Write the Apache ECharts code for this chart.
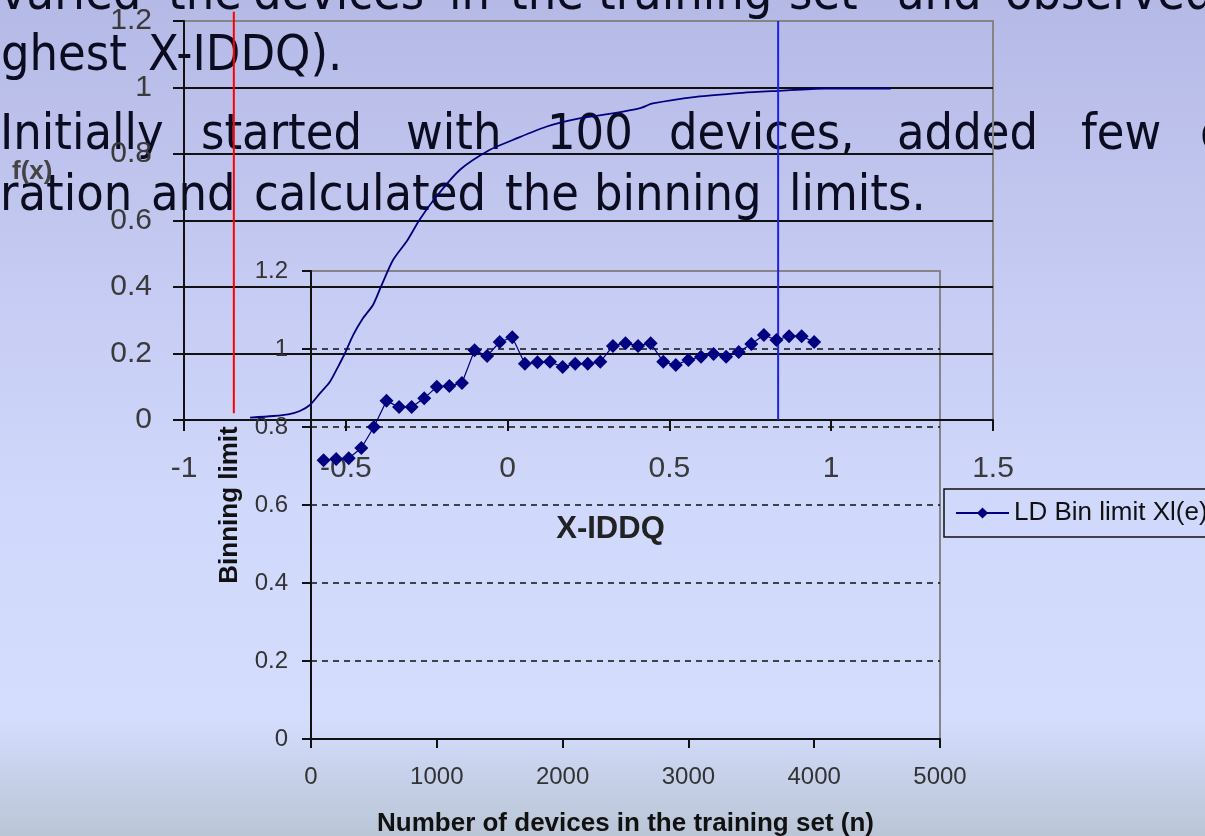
<!DOCTYPE html>
<html>
<head>
<meta charset="utf-8">
<script src="https://cdn.jsdelivr.net/npm/echarts@6/dist/echarts.min.js"></script>
<style>
html,body{margin:0;padding:0;width:1205px;height:836px;overflow:hidden;}
#chart{width:1205px;height:836px;}
</style>
</head>
<body>
<div id="chart"></div>
<script>
// ---- Background chart: cumulative distribution f(x) vs X-IDDQ ----
const cdfX = [-0.796,-0.724,-0.678,-0.642,-0.611,-0.580,-0.549,-0.524,-0.503,-0.477,-0.447,-0.416,-0.390,-0.354,-0.310,-0.272,-0.220,-0.148,-0.056,0.016,0.119,0.222,0.325,0.407,0.449,0.582,0.726,0.837,0.978,1.184];
const cdfY = [0.007,0.012,0.017,0.027,0.045,0.080,0.115,0.160,0.200,0.256,0.306,0.346,0.404,0.481,0.540,0.602,0.672,0.752,0.812,0.842,0.882,0.907,0.922,0.937,0.952,0.972,0.984,0.990,0.997,0.997];
const redLineX = -0.846;
const redLineY = [0.02, 1.228];
const blueLineX = 0.836;
const blueLineY = [0, 1.2];
const cdfXTicks = [-1, -0.5, 0, 0.5, 1, 1.5];
const cdfYTicks = [0, 0.2, 0.4, 0.6, 0.8, 1, 1.2];

// ---- Inset chart: binning limit vs number of devices ----
const devices = [100,200,300,400,500,600,700,800,900,1000,1100,1200,1300,1400,1500,1600,1700,1800,1900,2000,2100,2200,2300,2400,2500,2600,2700,2800,2900,3000,3100,3200,3300,3400,3500,3600,3700,3800,3900,4000];
const binLimit = [0.715,0.718,0.720,0.746,0.800,0.867,0.851,0.851,0.874,0.903,0.905,0.913,0.997,0.982,1.018,1.030,0.962,0.966,0.967,0.954,0.962,0.962,0.967,1.008,1.015,1.008,1.015,0.967,0.959,0.972,0.980,0.987,0.980,0.992,1.013,1.036,1.023,1.033,1.033,1.018];
const seriesName = 'LD Bin limit Xl(e)';
const insetXTicks = [0, 1000, 2000, 3000, 4000, 5000];
const insetYTicks = [0, 0.2, 0.4, 0.6, 0.8, 1, 1.2];

const chart = echarts.init(document.getElementById('chart'), null, {renderer: 'canvas'});
const AX = "'Liberation Sans', Arial, sans-serif";
const SLIDE = "'DejaVu Sans Condensed', 'DejaVu Sans', sans-serif";
const TXT = '#0c0c20';

function word(text, x, baseline) {
  return {
    type: 'text', z: -10, silent: true,
    style: {text: text, x: x, y: baseline - 11, font: '50px ' + SLIDE, fill: TXT, verticalAlign: 'middle', align: 'left'}
  };
}

const option = {
  animation: false,
  backgroundColor: {
    type: 'linear', x: 0, y: 0, x2: 0, y2: 1,
    colorStops: [
      {offset: 0, color: '#b5b9e6'},
      {offset: 0.3, color: '#c4c9f1'},
      {offset: 0.6, color: '#d0d8fb'},
      {offset: 0.86, color: '#d5ddfe'},
      {offset: 0.92, color: '#c8d2ec'},
      {offset: 1, color: '#bac6d6'}
    ]
  },
  textStyle: {fontFamily: AX},
  grid: [
    {left: 184, top: 21, width: 809, height: 399, show: true, borderColor: '#858585', borderWidth: 2, backgroundColor: 'transparent', containLabel: false, outerBoundsMode: 'none'},
    {left: 311, top: 271, width: 629, height: 468, show: true, borderColor: '#858585', borderWidth: 2, backgroundColor: 'transparent', containLabel: false, outerBoundsMode: 'none'}
  ],
  xAxis: [
    {
      type: 'value', gridIndex: 0, min: cdfXTicks[0], max: cdfXTicks[cdfXTicks.length - 1], interval: 0.5,
      axisLine: {show: true, onZero: false, lineStyle: {color: '#111', width: 2}},
      axisTick: {show: true, length: 11, lineStyle: {color: '#111', width: 2}},
      axisLabel: {fontSize: 30, color: '#3a3a3a', margin: 34},
      splitLine: {show: false},
      name: 'X-IDDQ', nameLocation: 'middle', nameGap: 94,
      nameTextStyle: {fontSize: 31, fontWeight: 'bold', color: '#222', padding: [0, 0, 0, 44]}
    },
    {
      type: 'value', gridIndex: 1, min: insetXTicks[0], max: insetXTicks[insetXTicks.length - 1], interval: 1000,
      axisLine: {show: true, onZero: false, lineStyle: {color: '#111', width: 2}},
      axisTick: {show: true, length: 9, lineStyle: {color: '#111', width: 2}},
      axisLabel: {fontSize: 24, color: '#333', margin: 26, formatter: v => String(v)},
      splitLine: {show: false},
      name: 'Number of devices in the training set (n)', nameLocation: 'middle', nameGap: 72,
      nameTextStyle: {fontSize: 26, fontWeight: 'bold', color: '#111'}
    }
  ],
  yAxis: [
    {
      type: 'value', gridIndex: 0, min: cdfYTicks[0], max: cdfYTicks[cdfYTicks.length - 1], interval: 0.2,
      axisLine: {show: true, onZero: false, lineStyle: {color: '#111', width: 2}},
      axisTick: {show: true, length: 11, lineStyle: {color: '#111', width: 2}},
      axisLabel: {fontSize: 30, color: '#3a3a3a', margin: 32},
      splitLine: {show: true, showMaxLine: false, lineStyle: {color: '#111', width: 2}}
    },
    {
      type: 'value', gridIndex: 1, min: insetYTicks[0], max: insetYTicks[insetYTicks.length - 1], interval: 0.2,
      axisLine: {show: true, onZero: false, lineStyle: {color: '#111', width: 2}},
      axisTick: {show: true, length: 9, lineStyle: {color: '#111', width: 2}},
      axisLabel: {fontSize: 24, color: '#333', margin: 23},
      splitLine: {show: true, showMaxLine: false, showMinLine: false, lineStyle: {color: '#111', width: 1.5, type: [6, 5]}},
      name: 'Binning limit', nameLocation: 'middle', nameGap: 68, nameRotate: 90,
      nameTextStyle: {fontSize: 26, fontWeight: 'bold', color: '#111'}
    }
  ],
  legend: {
    show: true, orient: 'vertical', left: 944, top: 489,
    padding: [11, 14, 11, 11], itemWidth: 53, itemHeight: 14, itemGap: 0,
    borderColor: '#111', borderWidth: 1.5, backgroundColor: 'transparent',
    textStyle: {fontSize: 26, color: '#111', fontFamily: AX},
    data: [seriesName]
  },
  series: [
    {
      type: 'line', xAxisIndex: 0, yAxisIndex: 0, z: 3,
      data: cdfX.map((x, i) => [x, cdfY[i]]),
      showSymbol: false, symbol: 'none', smooth: 0.25,
      lineStyle: {color: '#000080', width: 1.8}
    },
    {
      type: 'line', xAxisIndex: 0, yAxisIndex: 0, z: 3, clip: false,
      data: redLineY.map(y => [redLineX, y]),
      showSymbol: false, symbol: 'none',
      lineStyle: {color: '#ff0000', width: 2}
    },
    {
      type: 'line', xAxisIndex: 0, yAxisIndex: 0, z: 3,
      data: blueLineY.map(y => [blueLineX, y]),
      showSymbol: false, symbol: 'none',
      lineStyle: {color: '#2222dd', width: 2}
    },
    {
      name: seriesName, type: 'line', xAxisIndex: 1, yAxisIndex: 1, z: 4,
      data: devices.map((n, i) => [n, binLimit[i]]),
      symbol: 'diamond', symbolSize: 14, showSymbol: true,
      itemStyle: {color: '#000080'},
      lineStyle: {color: '#000080', width: 1.2}
    }
  ],
  graphic: [
    word('varied', 0, 7), word('the', 168, 7), word('devices', 253, 7), word('in', 449, 7),
    word('the', 510, 7), word('training', 598, 7), word('set', 789, 7), word('and', 897, 7), word('observed', 1005, 7),
    word('ghest', 1, 68), word('X-IDDQ).', 148, 68),
    word('Initially', 0, 147), word('started', 201, 147), word('with', 406, 147), word('100', 547, 147),
    word('devices,', 669, 147), word('added', 897, 147), word('few', 1081, 147), word('devices', 1200, 147),
    word('ration', 0, 208), word('and', 151, 208), word('calculated', 254, 208), word('the', 505, 208),
    word('binning', 594, 208), word('limits.', 789, 208),
    {
      type: 'text', z: 5, silent: true,
      style: {text: 'f(x)', x: 12, y: 172, font: 'bold 26px ' + AX, fill: '#444', verticalAlign: 'middle'}
    }
  ]
};
chart.setOption(option);
</script>
</body>
</html>
